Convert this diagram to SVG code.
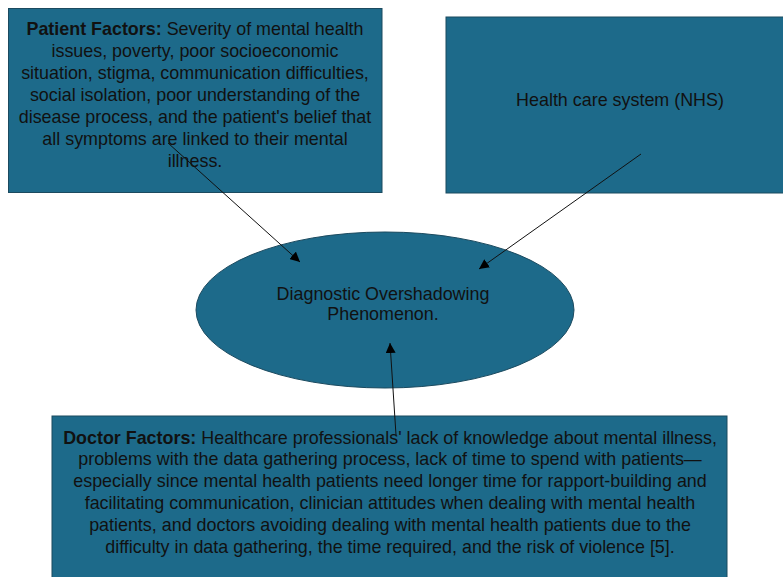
<svg xmlns="http://www.w3.org/2000/svg" width="783" height="577" viewBox="0 0 783 577">
<defs>
<style>
.box{fill:#1d6a8a;stroke:#1b4a5f;stroke-width:1}
.t{font-family:"Liberation Sans",Arial,sans-serif;font-size:17.9px;fill:#111;text-anchor:middle}
.b{font-weight:bold}
.c{stroke:#111;stroke-width:1;fill:none;marker-end:url(#ah)}
</style>
<marker id="ah" viewBox="0 0 10 10" refX="10" refY="5" markerWidth="10" markerHeight="10" markerUnits="userSpaceOnUse" orient="auto">
<path d="M0,0 L10,5 L0,10 z" fill="#000"/>
</marker>
</defs>
<rect width="783" height="577" fill="#fff"/>
<g id="patient">
<rect class="box" x="8.5" y="8.5" width="373.5" height="184"/>
<text class="t" x="195" y="34.5"><tspan class="b">Patient Factors:</tspan> Severity of mental health</text>
<text class="t" x="195" y="56.5">issues, poverty, poor socioeconomic</text>
<text class="t" x="195" y="78.5">situation, stigma, communication difficulties,</text>
<text class="t" x="195" y="100.5">social isolation, poor understanding of the</text>
<text class="t" x="195" y="122.5">disease process, and the patient's belief that</text>
<text class="t" x="195" y="144.5">all symptoms are linked to their mental</text>
<text class="t" x="195" y="166.5">illness.</text>
</g>
<g id="nhs">
<rect class="box" x="446" y="17" width="345" height="176"/>
<text class="t" x="620" y="106">Health care system (NHS)</text>
</g>
<g id="center">
<ellipse class="box" cx="385" cy="310" rx="189" ry="78"/>
<text class="t" x="383" y="299.5">Diagnostic Overshadowing</text>
<text class="t" x="383" y="319.5">Phenomenon.</text>
</g>
<g id="doctor">
<rect class="box" x="52" y="416" width="675" height="170"/>
<text class="t" x="390" y="443.5"><tspan class="b">Doctor Factors:</tspan> Healthcare professionals' lack of knowledge about mental illness,</text>
<text class="t" x="390" y="465">problems with the data gathering process, lack of time to spend with patients—</text>
<text class="t" x="390" y="487">especially since mental health patients need longer time for rapport-building and</text>
<text class="t" x="390" y="509">facilitating communication, clinician attitudes when dealing with mental health</text>
<text class="t" x="390" y="531">patients, and doctors avoiding dealing with mental health patients due to the</text>
<text class="t" x="390" y="553">difficulty in data gathering, the time required, and the risk of violence [5].</text>
</g>
<g id="connectors">
<line class="c" x1="168" y1="143" x2="300" y2="262"/>
<line class="c" x1="641" y1="154" x2="479" y2="269"/>
<line class="c" x1="396" y1="435" x2="390" y2="343"/>
</g>
</svg>
